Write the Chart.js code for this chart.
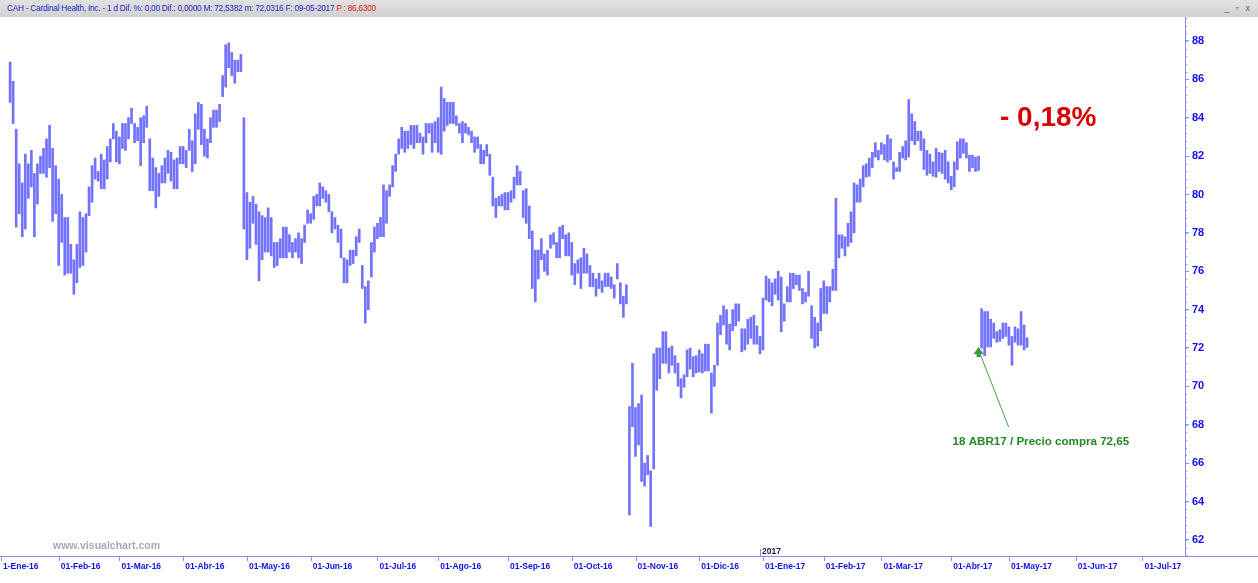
<!DOCTYPE html>
<html>
<head>
<meta charset="utf-8">
<script src="https://cdn.jsdelivr.net/npm/chart.js@4.4.1/dist/chart.umd.min.js"></script>
<style>
  html, body { margin: 0; padding: 0; background: #fff; }
  #wrap { position: relative; width: 1258px; height: 583px; overflow: hidden; }
  #header { position: absolute; left: 0; top: 0; width: 1258px; height: 17px; box-sizing: border-box;
            background: linear-gradient(#e2e2e2, #d0d0d0); padding-left: 7px; white-space: pre;
            font: 8.2px "Liberation Sans", sans-serif; letter-spacing: -0.2px; line-height: 17px; color: #2626d0; z-index: 2; }
  #header .p { color: #e41010; }
  #header .btns { position: absolute; right: 6px; top: 0; color: #606060; letter-spacing: 2px; font-size: 9px; }
  #chart { position: absolute; left: 0; top: 0; }
</style>
</head>
<body>
<div id="wrap">
  <div id="header">CAH - Cardinal Health, Inc. - 1 d Dif. %: 0,00 Dif.: 0,0000 M: 72,5382 m: 72,0316 F: 09-05-2017 <span class="p">P : 86,6300</span><span class="btns">_ ▫ x</span></div>
  <canvas id="chart" width="1258" height="583"></canvas>
</div>
<script>
// meses del eje X y sesiones por mes
const monthLabels = ['1-Ene-16', '01-Feb-16', '01-Mar-16', '01-Abr-16', '01-May-16', '01-Jun-16',
  '01-Jul-16', '01-Ago-16', '01-Sep-16', '01-Oct-16', '01-Nov-16', '01-Dic-16', '01-Ene-17',
  '01-Feb-17', '01-Mar-17', '01-Abr-17', '01-May-17', '01-Jun-17', '01-Jul-17'];
const tradingDays = [19, 20, 21, 21, 21, 22, 20, 23, 21, 21, 21, 21, 20, 19, 23, 19, 22, 22];

const firstBar = 3; // primera barra visible (7-Ene-16)

// máximos diarios
const highs = [
  86.9, 85.9, 83.4, 81.6, 80.6, 82.1, 81.6, 82.3, 81.1, 81.6, 82.0, 82.4, 82.9, 83.6, 82.4, 81.5,
  80.8, 80.0, 78.8, 78.8, 77.4, 76.6, 77.4, 79.1, 78.8, 79.0, 80.4, 81.5, 81.9, 81.2, 82.1, 81.8, 82.5, 82.9, 83.7, 83.3,
  83.0, 83.7, 83.7, 84.0, 84.5, 83.7, 83.5, 84.0, 84.1, 84.6, 82.9, 81.9, 81.4, 81.1,
  81.5, 81.9, 82.3, 82.2, 81.8, 81.9, 82.5, 82.5, 82.3, 83.4, 82.8, 84.2, 84.8, 84.7, 83.4, 82.9, 84.0, 84.4, 84.4, 84.7,
  86.2, 87.8, 87.9, 87.4, 87.0, 87.0, 87.3, 84.0, 80.1, 79.6, 79.9, 79.5, 79.1, 78.9, 78.8, 79.3, 78.8, 77.5, 77.5, 77.7,
  78.3, 78.3, 77.9, 77.5, 77.7, 78.0, 77.7, 78.4, 79.2, 79.0, 79.9,
  80.0, 80.6, 80.4, 80.2, 80.0, 79.1, 78.8, 78.4, 78.2, 76.7, 76.6, 77.1, 77.1, 77.8, 78.2, 76.3, 75.2, 75.5, 77.5, 78.3,
  78.5, 78.8, 80.5, 80.2, 80.5, 81.5, 82.1, 82.9, 83.5, 83.3, 83.3, 83.6, 83.6, 83.6, 83.2, 83.0, 83.7, 83.7, 83.7, 83.8,
  84.0, 85.6, 85.0, 84.8, 84.8, 84.8, 84.1, 83.7, 83.8, 83.7, 83.5,
  83.3, 83.0, 83.0, 82.6, 82.3, 82.6, 82.1, 80.9, 79.8, 79.9, 80.0, 80.1, 80.1, 80.2, 80.9, 81.5, 81.2, 80.2, 80.3, 79.4,
  78.1, 77.1, 77.1, 77.7, 76.9, 77.1, 77.9, 78.0, 77.5, 78.3, 78.4, 77.9, 78.0, 77.5, 76.4, 76.6, 76.7, 77.2, 76.9, 76.3,
  75.9, 75.6, 75.9, 75.5, 75.9, 75.9, 75.7, 75.3, 76.4, 75.4, 74.7, 75.3,
  68.95, 71.2, 68.9, 69.1, 69.55, 66.0, 66.4, 65.6, 71.7, 72.0, 72.0, 72.85, 72.85, 72.0, 72.1, 71.6, 71.2, 70.4, 70.6, 71.9,
  72.0, 71.55, 71.6, 71.9, 71.7, 72.2, 72.2, 70.7, 71.1, 73.3, 73.7, 74.2, 74.0, 73.25, 74.0, 74.3, 74.3, 73.0, 73.0, 73.5,
  73.6, 73.7, 73.15, 72.6, 74.6, 75.75, 75.6, 75.4, 75.6, 76.0, 75.7,
  74.3, 75.2, 75.9, 75.9, 75.8, 75.8, 75.1, 74.9, 76.0, 74.2, 73.6, 73.3, 75.1, 75.5, 75.2, 75.2, 76.1, 79.8, 77.9, 77.9,
  77.8, 78.5, 79.1, 80.6, 80.5, 80.8, 81.5, 81.6, 81.9, 82.2, 82.7, 82.3, 82.7, 82.6, 83.1, 82.9, 81.7, 81.4, 82.2, 82.5,
  82.8, 84.95, 84.2, 83.8, 83.3, 83.3, 82.9, 82.3, 82.1, 81.7, 82.4,
  82.2, 82.15, 82.3, 81.7, 80.95, 81.7, 82.75, 82.9, 82.9, 82.7, 82.05, 82.05, 81.95, 82.0,
  74.05, 73.9, 73.9, 73.5, 73.3, 72.85, 72.95, 73.3, 73.3, 73.1, 72.6, 73.1, 73.0, 73.9, 73.2, 72.54
];

// mínimos diarios
const lows = [
  84.8, 83.7, 78.3, 79.0, 77.8, 78.2, 79.8, 80.4, 77.8, 79.5, 81.1, 81.1, 80.9, 81.4, 78.6, 79.0,
  76.3, 77.5, 75.8, 75.9, 75.9, 74.8, 75.4, 76.2, 76.3, 77.0, 78.9, 79.6, 80.8, 80.7, 80.3, 80.3, 80.8, 81.7, 82.9, 81.7,
  81.6, 82.4, 82.3, 82.9, 83.7, 82.7, 82.8, 81.5, 82.7, 83.5, 80.2, 80.2, 79.3, 79.9,
  80.6, 80.6, 81.1, 80.7, 80.3, 80.3, 81.6, 81.6, 81.4, 82.3, 81.2, 81.6, 83.4, 82.6, 82.0, 81.9, 82.7, 83.5, 83.5, 83.8,
  85.1, 85.6, 86.6, 86.2, 85.8, 86.4, 86.4, 78.2, 76.6, 77.2, 78.5, 77.4, 75.5, 76.6, 77.0, 77.0, 76.8, 76.2, 76.3, 76.7,
  76.7, 76.7, 77.0, 76.7, 77.0, 76.7, 76.4, 77.5, 78.5, 78.5, 78.7,
  79.4, 79.4, 79.8, 79.6, 79.1, 78.0, 78.2, 77.5, 76.7, 75.4, 75.4, 76.3, 76.4, 76.8, 77.5, 75.1, 73.3, 74.0, 75.7, 77.0,
  77.7, 77.8, 77.8, 78.5, 79.9, 80.4, 81.2, 82.1, 82.4, 82.2, 82.4, 82.6, 82.4, 82.7, 82.7, 82.1, 82.7, 83.2, 82.2, 82.7,
  82.2, 82.1, 83.3, 83.6, 83.7, 83.7, 83.6, 83.2, 82.7, 83.2, 83.1,
  82.7, 82.2, 82.4, 81.6, 81.6, 82.0, 81.0, 79.4, 78.8, 79.4, 79.4, 79.2, 79.2, 79.6, 79.8, 80.5, 80.5, 78.8, 78.5, 77.7,
  75.1, 74.4, 75.6, 76.6, 76.0, 75.8, 77.2, 77.4, 76.7, 76.7, 77.7, 76.8, 76.8, 75.8, 75.3, 75.9, 75.1, 75.9, 75.9, 75.2,
  75.2, 74.7, 75.1, 74.9, 75.2, 75.2, 75.1, 74.6, 75.6, 74.3, 73.6, 74.3,
  63.3, 67.9, 66.35, 66.95, 65.05, 64.8, 65.4, 62.7, 65.7, 69.8, 70.4, 71.2, 71.2, 70.7, 71.1, 70.7, 70.0, 69.4, 69.95, 70.5,
  70.9, 70.5, 70.7, 70.75, 70.7, 70.8, 70.8, 68.6, 70.0, 71.1, 72.7, 73.2, 72.2, 71.9, 72.9, 73.15, 73.4, 71.8, 71.9, 72.2,
  72.5, 72.2, 72.2, 71.7, 71.9, 74.5, 74.4, 74.2, 74.8, 74.5, 72.85,
  73.4, 74.4, 74.4, 75.1, 75.3, 75.0, 74.3, 74.4, 74.7, 72.5, 72.0, 72.1, 72.9, 73.8, 73.8, 74.4, 75.0, 75.0, 76.7, 77.2,
  76.8, 77.3, 77.5, 78.0, 79.6, 79.6, 80.4, 80.9, 80.95, 81.4, 81.95, 81.8, 82.1, 81.8, 81.7, 81.8, 80.8, 81.2, 81.2, 81.9,
  81.8, 81.95, 82.8, 82.6, 82.8, 82.3, 81.3, 81.0, 81.1, 80.95, 80.9,
  81.2, 81.1, 80.8, 80.6, 80.25, 80.4, 81.3, 81.9, 82.15, 81.9, 81.2, 81.4, 81.2, 81.25,
  72.0, 71.6, 72.05, 72.05, 72.5, 72.3, 72.35, 72.5, 72.6, 72.15, 71.1, 72.3, 72.15, 72.15, 71.9, 72.03
];

const buyIndex = 323; // 18-Abr-17
const buyText = '18 ABR17 / Precio compra 72,65';
const changeText = '- 0,18%';
const yTickValues = [62, 64, 66, 68, 70, 72, 74, 76, 78, 80, 82, 84, 86, 88];

const monthStarts = [0];
tradingDays.forEach(n => monthStarts.push(monthStarts[monthStarts.length - 1] + n));

const bars = highs.map((h, k) => ({ x: firstBar + k, y: [lows[k], h] }));

const axisColor = '#8c8cff';
const labelBlue = '#1010f0';
const fontFamily = '"Liberation Sans", Arial, sans-serif';

// textos, marcas del eje y flecha
const extras = {
  id: 'extras',
  afterDraw(chart) {
    const ctx = chart.ctx;
    const xs = chart.scales.x, ys = chart.scales.y;
    const area = chart.chartArea;
    ctx.save();

    ctx.strokeStyle = axisColor;
    ctx.lineWidth = 1;
    ctx.beginPath();
    // marcas menores del eje Y
    for (let v = 61.2; v < 89.3; v += 0.4) {
      const py = Math.round(ys.getPixelForValue(v)) + 0.5;
      ctx.moveTo(area.right, py);
      ctx.lineTo(area.right + 2, py);
    }
    // marcas de mes bajo el eje X
    monthStarts.forEach(m => {
      const px = Math.round(xs.getPixelForValue(m)) + 0.5;
      ctx.moveTo(px, area.bottom);
      ctx.lineTo(px, area.bottom + 5);
    });
    // el eje X llega hasta el borde
    ctx.moveTo(area.right, area.bottom + 0.5);
    ctx.lineTo(chart.width, area.bottom + 0.5);
    // marca del año
    const x17 = Math.round(xs.getPixelForValue(monthStarts[12])) - 2.5;
    ctx.moveTo(x17, area.bottom);
    ctx.lineTo(x17, area.bottom - 7);
    ctx.stroke();

    ctx.fillStyle = '#20204a';
    ctx.font = 'bold 8.5px ' + fontFamily;
    ctx.textBaseline = 'alphabetic';
    ctx.fillText('2017', x17 + 1.5, area.bottom - 2);

    ctx.fillStyle = '#a8a8ba';
    ctx.font = 'bold 10.5px ' + fontFamily;
    ctx.textBaseline = 'middle';
    ctx.fillText('www.visualchart.com', 53, area.bottom - 10);

    ctx.fillStyle = '#d80000';
    ctx.font = 'bold 28px ' + fontFamily;
    ctx.fillText(changeText, 1000, 118);

    // flecha de compra
    const tipX = xs.getPixelForValue(buyIndex) - 3;
    const tipY = ys.getPixelForValue(lows[buyIndex - firstBar]) - 1;
    ctx.strokeStyle = '#4aa04a';
    ctx.fillStyle = '#3c963c';
    ctx.beginPath();
    ctx.moveTo(tipX + 2, tipY + 8);
    ctx.lineTo(tipX + 30, tipY + 80);
    ctx.stroke();
    ctx.beginPath();
    ctx.moveTo(tipX, tipY);
    ctx.lineTo(tipX + 5, tipY + 7);
    ctx.lineTo(tipX + 2, tipY + 7);
    ctx.lineTo(tipX + 2, tipY + 10);
    ctx.lineTo(tipX - 2, tipY + 10);
    ctx.lineTo(tipX - 2, tipY + 7);
    ctx.lineTo(tipX - 5, tipY + 7);
    ctx.closePath();
    ctx.fill();

    ctx.fillStyle = '#238a23';
    ctx.font = 'bold 11.6px ' + fontFamily;
    ctx.fillText(buyText, tipX - 26, tipY + 95);
    ctx.restore();
  }
};

new Chart(document.getElementById('chart').getContext('2d'), {
  type: 'bar',
  data: {
    datasets: [{
      data: bars,
      backgroundColor: 'rgba(70,70,255,0.76)',
      borderWidth: 0,
      barThickness: 2
    }]
  },
  options: {
    responsive: false,
    animation: false,
    layout: { padding: { top: 17, left: 0, right: 0, bottom: 0 } },
    plugins: { legend: { display: false }, tooltip: { enabled: false } },
    scales: {
      x: {
        type: 'linear',
        min: -0.3,
        max: 390,
        offset: false,
        afterBuildTicks: s => { s.ticks = monthStarts.map(v => ({ value: v })); },
        afterFit: s => { s.height = 27; },
        grid: { drawOnChartArea: false, tickLength: 5, color: 'rgba(0,0,0,0)' },
        border: { color: axisColor },
        ticks: {
          autoSkip: false, maxRotation: 0, align: 'start', labelOffset: 2, padding: 1,
          color: labelBlue, font: { family: fontFamily, size: 8.5, weight: 'bold' },
          callback: (v, i) => monthLabels[i]
        }
      },
      y: {
        position: 'right',
        min: 61.16,
        max: 89.25,
        afterBuildTicks: s => { s.ticks = yTickValues.map(v => ({ value: v })); },
        afterFit: s => { s.width = 73; },
        grid: { drawOnChartArea: false, tickLength: 4, color: axisColor },
        border: { color: axisColor },
        ticks: { padding: 3, color: labelBlue, font: { family: fontFamily, size: 11, weight: 'bold' } }
      }
    }
  },
  plugins: [extras]
});
</script>
</body>
</html>
